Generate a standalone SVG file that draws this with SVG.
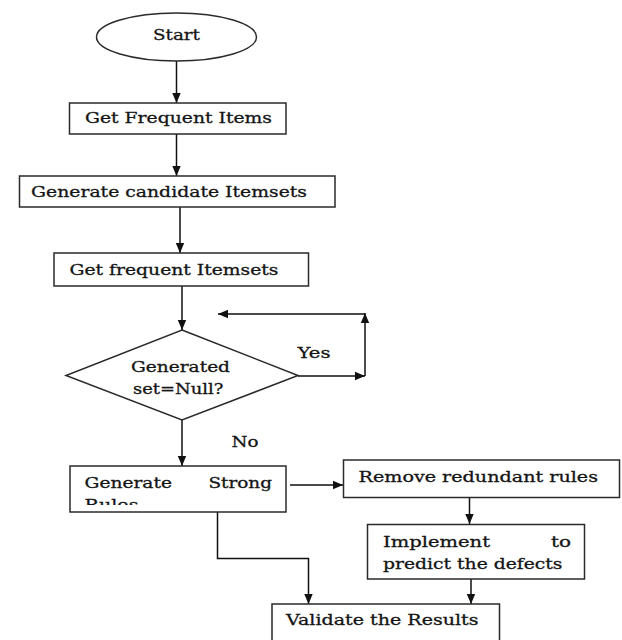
<svg xmlns="http://www.w3.org/2000/svg" width="622" height="640" viewBox="0 0 622 640">
<style>
.box{fill:#fff;stroke:#2a2a2a;stroke-width:1.5}
.t{font-family:"DejaVu Serif","Liberation Serif",serif;font-size:15.5px;fill:#141414;stroke:#141414;stroke-width:0.3}
.c{fill:none;stroke:#111;stroke-width:1.5}
</style>
<defs>
<marker id="ah" viewBox="0 0 10 10" refX="10" refY="5" markerWidth="10" markerHeight="10" markerUnits="userSpaceOnUse" orient="auto">
<path d="M0,0.8 L10,5 L0,9.2 Z" fill="#111"/>
</marker>
<clipPath id="gclip"><rect x="70" y="466" width="216" height="39"/></clipPath>
</defs>
<rect width="622" height="640" fill="#fff"/>
<g id="connectors">
<path class="c" d="M176.5,61 V103" marker-end="url(#ah)"/>
<path class="c" d="M176.5,134 V176" marker-end="url(#ah)"/>
<path class="c" d="M180,207 V253" marker-end="url(#ah)"/>
<path class="c" d="M182,286 V330" marker-end="url(#ah)"/>
<path class="c" d="M298,376 H365" marker-end="url(#ah)"/>
<path class="c" d="M365,376 V313" marker-end="url(#ah)"/>
<path class="c" d="M365,314 H218" marker-end="url(#ah)"/>
<path class="c" d="M182,420 V466" marker-end="url(#ah)"/>
<path class="c" d="M290,485 H343" marker-end="url(#ah)"/>
<path class="c" d="M469.5,497 V524" marker-end="url(#ah)"/>
<path class="c" d="M471,579 V604" marker-end="url(#ah)"/>
<path class="c" d="M217.5,512 V558.5 H308.5 V604" marker-end="url(#ah)"/>
<text class="t" x="297.5" y="358" textLength="33" lengthAdjust="spacingAndGlyphs">Yes</text>
<text class="t" x="231.5" y="447" textLength="27" lengthAdjust="spacingAndGlyphs">No</text>
</g>
<g id="start">
<ellipse class="box" cx="176.5" cy="37" rx="80" ry="24"/>
<text class="t" x="153" y="40" textLength="47" lengthAdjust="spacingAndGlyphs">Start</text>
</g>
<g id="get-frequent-items">
<rect class="box" x="69.5" y="103" width="216.5" height="31"/>
<text class="t" x="85" y="123" textLength="187" lengthAdjust="spacingAndGlyphs">Get Frequent Items</text>
</g>
<g id="generate-candidate">
<rect class="box" x="19.5" y="176" width="315.5" height="31"/>
<text class="t" x="31" y="196.5" textLength="276" lengthAdjust="spacingAndGlyphs">Generate candidate Itemsets</text>
</g>
<g id="get-frequent-itemsets">
<rect class="box" x="54" y="253" width="254.5" height="33"/>
<text class="t" x="69.5" y="274.5" textLength="209" lengthAdjust="spacingAndGlyphs">Get frequent Itemsets</text>
</g>
<g id="decision">
<polygon class="box" points="182,330 298,375.5 182,420 66,375.5"/>
<text class="t" x="131" y="371.5" textLength="99" lengthAdjust="spacingAndGlyphs">Generated</text>
<text class="t" x="133" y="393.5" textLength="90.5" lengthAdjust="spacingAndGlyphs">set=Null?</text>
</g>
<g id="generate-strong-rules">
<rect class="box" x="70" y="466" width="216" height="46"/>
<g clip-path="url(#gclip)">
<text class="t" x="84.5" y="488" textLength="87.5" lengthAdjust="spacingAndGlyphs">Generate</text>
<text class="t" x="208.5" y="488" textLength="63.5" lengthAdjust="spacingAndGlyphs">Strong</text>
<text class="t" x="84.5" y="510" textLength="54" lengthAdjust="spacingAndGlyphs">Rules</text>
</g>
</g>
<g id="remove-redundant">
<rect class="box" x="343.5" y="460" width="276" height="37.5"/>
<text class="t" x="358.5" y="482" textLength="239.5" lengthAdjust="spacingAndGlyphs">Remove redundant rules</text>
</g>
<g id="implement">
<rect class="box" x="367.5" y="524.5" width="217" height="54.5"/>
<text class="t" x="383" y="547" textLength="107" lengthAdjust="spacingAndGlyphs">Implement</text>
<text class="t" x="551" y="547" textLength="20" lengthAdjust="spacingAndGlyphs">to</text>
<text class="t" x="383" y="568.5" textLength="179.5" lengthAdjust="spacingAndGlyphs">predict the defects</text>
</g>
<g id="validate">
<rect class="box" x="272" y="604" width="227.5" height="50"/>
<text class="t" x="286" y="625" textLength="192.5" lengthAdjust="spacingAndGlyphs">Validate the Results</text>
</g>
</svg>
